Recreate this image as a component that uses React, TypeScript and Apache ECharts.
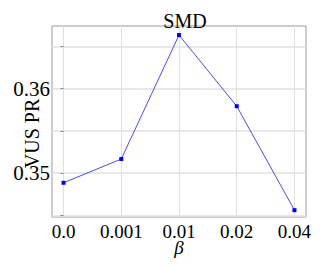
import React, { useEffect, useRef } from "react";
import * as echarts from "echarts";

const categories = ["0.0", "0.001", "0.01", "0.02", "0.04"];
const values = [0.34885, 0.35166, 0.36633, 0.35791, 0.34561];
const yTickValues = [0.345, 0.35, 0.355, 0.36, 0.365];
const yLabelValues = [0.35, 0.36];

export default function App() {
  const ref = useRef<HTMLDivElement>(null);
  useEffect(() => {
    const chart = echarts.init(ref.current!, null, { renderer: "svg" });
    const font = "'Liberation Serif', 'Times New Roman', serif";
    chart.setOption({
      animation: false,
      title: {
        text: "SMD",
        left: 180,
        textAlign: "center",
        top: 6,
        textStyle: { fontFamily: font, fontSize: 20, fontWeight: "normal", color: "#000" },
      },
      grid: {
        left: 52,
        right: 18,
        top: 26,
        bottom: 50,
        containLabel: false,
        outerBoundsMode: "none",
        show: true,
        borderColor: "#9a9a9a",
        borderWidth: 1,
        backgroundColor: "#fff",
      },
      xAxis: {
        type: "value",
        min: -0.2,
        max: 4.2,
        name: "β",
        nameLocation: "middle",
        nameGap: 21,
        nameMoveOverlap: false,
        nameTextStyle: { fontFamily: font, fontSize: 19, fontStyle: "italic", color: "#000" },
        axisLine: { show: false },
        axisTick: { show: false, customValues: [0, 1, 2, 3, 4] },
        axisLabel: {
          customValues: [0, 1, 2, 3, 4],
          formatter: (v: number) => categories[Math.round(v)] ?? "",
          fontFamily: font,
          fontSize: 19,
          color: "#000",
          margin: 5,
        },
        splitLine: {
          show: true,
          customValues: [0, 1, 2, 3, 4],
          lineStyle: { color: "#e0e0e0", width: 1 },
        },
      },
      yAxis: {
        type: "value",
        min: 0.3448,
        max: 0.3674,
        name: "VUS PR",
        nameLocation: "middle",
        nameGap: 10,
        nameMoveOverlap: false,
        nameTextStyle: { fontFamily: font, fontSize: 20, color: "#000", padding: [0, 24, 0, 0] },
        axisLine: { show: false },
        axisTick: {
          show: true,
          inside: false,
          customValues: yTickValues,
          length: 3,
          lineStyle: { color: "#888" },
        },
        axisLabel: {
          customValues: yLabelValues,
          formatter: (v: number) => v.toFixed(2),
          fontFamily: font,
          fontSize: 21,
          color: "#000",
          margin: 2,
        },
        splitLine: {
          show: true,
          customValues: yTickValues,
          lineStyle: { color: "#e0e0e0", width: 1.5 },
        },
      },
      series: [
        {
          type: "line",
          data: values.map((v, i) => [i, v]),
          symbol: "rect",
          symbolSize: 4,
          itemStyle: { color: "#0000ff" },
          lineStyle: { color: "#4a4aff", width: 1 },
        },
      ],
    });
    return () => chart.dispose();
  }, []);
  return <div ref={ref} style={{ width: 324, height: 267, position: "absolute", left: 0, top: 0 }} />;
}
